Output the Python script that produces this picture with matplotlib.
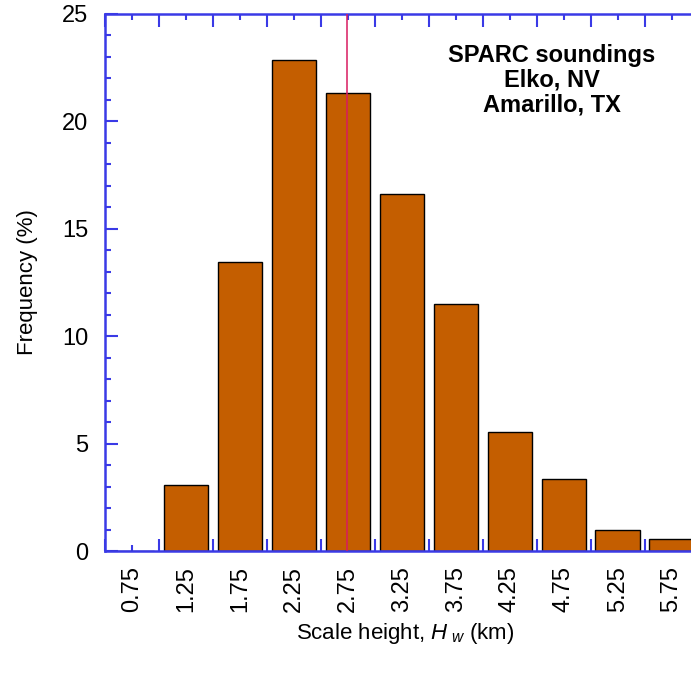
import numpy as np
import matplotlib
matplotlib.use("Agg")
import matplotlib.pyplot as plt
from matplotlib.ticker import MultipleLocator, FixedLocator, NullFormatter

plt.rcParams["font.family"] = ["Liberation Sans", "DejaVu Sans"]
plt.rcParams["mathtext.fontset"] = "custom"
plt.rcParams["mathtext.it"] = "Liberation Sans:italic"
plt.rcParams["mathtext.rm"] = "Liberation Sans"

# histogram of scale height (km)
bin_centers = [0.75, 1.25, 1.75, 2.25, 2.75, 3.25, 3.75, 4.25, 4.75, 5.25, 5.75]
frequency = [0.0, 3.07, 13.45, 22.86, 21.32, 16.62, 11.5, 5.54, 3.35, 0.98, 0.56]
tick_labels = ["0.75", "1.25", "1.75", "2.25", "2.75", "3.25", "3.75",
               "4.25", "4.75", "5.25", "5.75"]
mean_height = 2.74

axis_blue = "#3a3ae6"

fig = plt.figure(figsize=(6.91, 6.83), dpi=100)
ax = fig.add_axes([105 / 691, 132 / 683, 586 / 691, 537 / 683])

ax.bar(bin_centers, frequency, width=0.41, color="#c45e00",
       edgecolor="black", linewidth=1.0, zorder=2)
ax.axvline(mean_height, color="#d81b60", linewidth=1.1, zorder=3)

ax.set_xlim(0.5, 5.93)
ax.set_ylim(0, 25)

ax.spines["right"].set_visible(False)
for s in ["left", "bottom", "top"]:
    ax.spines[s].set_color(axis_blue)
    ax.spines[s].set_linewidth(1.8)

# x: long ticks at bin edges, short labelled ticks at bin centres
ax.xaxis.set_major_locator(FixedLocator(bin_centers))
ax.set_xticklabels(tick_labels, rotation=90, fontsize=17)
ax.xaxis.set_minor_locator(MultipleLocator(0.5))
ax.xaxis.set_minor_formatter(NullFormatter())
ax.tick_params(axis="x", which="major", direction="in", length=4, width=1.5,
               color=axis_blue, top=True, bottom=True, pad=11)
ax.tick_params(axis="x", which="minor", direction="in", length=9, width=1.5,
               color=axis_blue, top=True, bottom=True)

ax.yaxis.set_major_locator(MultipleLocator(5))
ax.yaxis.set_minor_locator(MultipleLocator(1))
ax.tick_params(axis="y", which="major", direction="in", length=9, width=1.5,
               color=axis_blue, labelsize=17, pad=12)
ax.tick_params(axis="y", which="minor", direction="in", length=4, width=1.5,
               color=axis_blue)

ax.set_ylabel("Frequency (%)", fontsize=16)
ax.yaxis.set_label_coords((38 - 105) / 586, 0.5)
ax.set_xlabel(r"Scale height, $H_{\ w}$ (km)", fontsize=16)
ax.xaxis.set_label_coords((405 - 105) / 586, -(621 - 551) / 537)

ax.text((552 - 105) / 586, (551 - 44) / 537,
        "SPARC soundings\nElko, NV\nAmarillo, TX",
        transform=ax.transAxes, ha="center", va="top", fontsize=17,
        fontweight="bold", linespacing=1.1)

fig.savefig("out.png", dpi=100)
